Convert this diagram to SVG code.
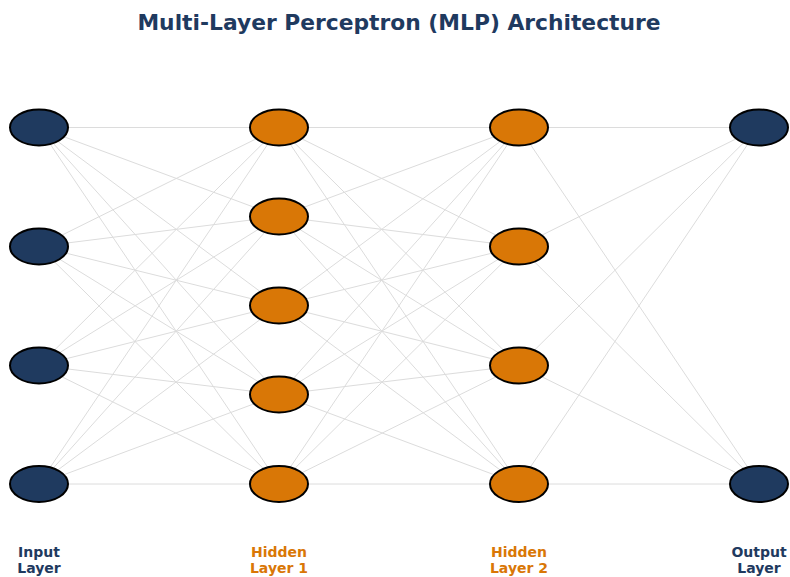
<svg xmlns="http://www.w3.org/2000/svg" width="790" height="577" viewBox="0 0 790 577">
  <style>
    .edge { stroke: #dcdcdc; stroke-width: 1; fill: none; }
    .node ellipse { stroke: #000; stroke-width: 2; }
    .io ellipse { fill: #1f3a5f; }
    .hid ellipse { fill: #d97706; }
    text { font-family: "DejaVu Sans", sans-serif; font-weight: bold; text-anchor: middle; }
    .title { font-size: 21.8px; fill: #1f3a5f; }
    .lbl { font-size: 14px; }
    .lbl-io { fill: #1f3a5f; }
    .lbl-hid { fill: #d97706; }
  </style>
  <rect width="790" height="577" fill="#fff"/>
  <text class="title" x="399" y="30">Multi-Layer Perceptron (MLP) Architecture</text>

  <!-- Fully connected weights between adjacent layers -->
  <g id="connectors">
    <!-- input -> hidden 1 -->
    <line class="edge" x1="39" y1="127.5" x2="279" y2="127.5"/>
    <line class="edge" x1="39" y1="127.5" x2="279" y2="216.5"/>
    <line class="edge" x1="39" y1="127.5" x2="279" y2="305.5"/>
    <line class="edge" x1="39" y1="127.5" x2="279" y2="394.5"/>
    <line class="edge" x1="39" y1="127.5" x2="279" y2="484"/>
    <line class="edge" x1="39" y1="246.5" x2="279" y2="127.5"/>
    <line class="edge" x1="39" y1="246.5" x2="279" y2="216.5"/>
    <line class="edge" x1="39" y1="246.5" x2="279" y2="305.5"/>
    <line class="edge" x1="39" y1="246.5" x2="279" y2="394.5"/>
    <line class="edge" x1="39" y1="246.5" x2="279" y2="484"/>
    <line class="edge" x1="39" y1="365.5" x2="279" y2="127.5"/>
    <line class="edge" x1="39" y1="365.5" x2="279" y2="216.5"/>
    <line class="edge" x1="39" y1="365.5" x2="279" y2="305.5"/>
    <line class="edge" x1="39" y1="365.5" x2="279" y2="394.5"/>
    <line class="edge" x1="39" y1="365.5" x2="279" y2="484"/>
    <line class="edge" x1="39" y1="484" x2="279" y2="127.5"/>
    <line class="edge" x1="39" y1="484" x2="279" y2="216.5"/>
    <line class="edge" x1="39" y1="484" x2="279" y2="305.5"/>
    <line class="edge" x1="39" y1="484" x2="279" y2="394.5"/>
    <line class="edge" x1="39" y1="484" x2="279" y2="484"/>
    <!-- hidden 1 -> hidden 2 -->
    <line class="edge" x1="279" y1="127.5" x2="519" y2="127.5"/>
    <line class="edge" x1="279" y1="127.5" x2="519" y2="246.5"/>
    <line class="edge" x1="279" y1="127.5" x2="519" y2="365.5"/>
    <line class="edge" x1="279" y1="127.5" x2="519" y2="484"/>
    <line class="edge" x1="279" y1="216.5" x2="519" y2="127.5"/>
    <line class="edge" x1="279" y1="216.5" x2="519" y2="246.5"/>
    <line class="edge" x1="279" y1="216.5" x2="519" y2="365.5"/>
    <line class="edge" x1="279" y1="216.5" x2="519" y2="484"/>
    <line class="edge" x1="279" y1="305.5" x2="519" y2="127.5"/>
    <line class="edge" x1="279" y1="305.5" x2="519" y2="246.5"/>
    <line class="edge" x1="279" y1="305.5" x2="519" y2="365.5"/>
    <line class="edge" x1="279" y1="305.5" x2="519" y2="484"/>
    <line class="edge" x1="279" y1="394.5" x2="519" y2="127.5"/>
    <line class="edge" x1="279" y1="394.5" x2="519" y2="246.5"/>
    <line class="edge" x1="279" y1="394.5" x2="519" y2="365.5"/>
    <line class="edge" x1="279" y1="394.5" x2="519" y2="484"/>
    <line class="edge" x1="279" y1="484" x2="519" y2="127.5"/>
    <line class="edge" x1="279" y1="484" x2="519" y2="246.5"/>
    <line class="edge" x1="279" y1="484" x2="519" y2="365.5"/>
    <line class="edge" x1="279" y1="484" x2="519" y2="484"/>
    <!-- hidden 2 -> output -->
    <line class="edge" x1="519" y1="127.5" x2="759" y2="127.5"/>
    <line class="edge" x1="519" y1="127.5" x2="759" y2="484"/>
    <line class="edge" x1="519" y1="246.5" x2="759" y2="127.5"/>
    <line class="edge" x1="519" y1="246.5" x2="759" y2="484"/>
    <line class="edge" x1="519" y1="365.5" x2="759" y2="127.5"/>
    <line class="edge" x1="519" y1="365.5" x2="759" y2="484"/>
    <line class="edge" x1="519" y1="484" x2="759" y2="127.5"/>
    <line class="edge" x1="519" y1="484" x2="759" y2="484"/>
  </g>

  <!-- Input layer -->
  <g id="in1" class="node io"><ellipse cx="39" cy="127.5" rx="29" ry="18"/></g>
  <g id="in2" class="node io"><ellipse cx="39" cy="246.5" rx="29" ry="18"/></g>
  <g id="in3" class="node io"><ellipse cx="39" cy="365.5" rx="29" ry="18"/></g>
  <g id="in4" class="node io"><ellipse cx="39" cy="484" rx="29" ry="18"/></g>

  <!-- Hidden layer 1 -->
  <g id="h1_1" class="node hid"><ellipse cx="279" cy="127.5" rx="29" ry="18"/></g>
  <g id="h1_2" class="node hid"><ellipse cx="279" cy="216.5" rx="29" ry="18"/></g>
  <g id="h1_3" class="node hid"><ellipse cx="279" cy="305.5" rx="29" ry="18"/></g>
  <g id="h1_4" class="node hid"><ellipse cx="279" cy="394.5" rx="29" ry="18"/></g>
  <g id="h1_5" class="node hid"><ellipse cx="279" cy="484" rx="29" ry="18"/></g>

  <!-- Hidden layer 2 -->
  <g id="h2_1" class="node hid"><ellipse cx="519" cy="127.5" rx="29" ry="18"/></g>
  <g id="h2_2" class="node hid"><ellipse cx="519" cy="246.5" rx="29" ry="18"/></g>
  <g id="h2_3" class="node hid"><ellipse cx="519" cy="365.5" rx="29" ry="18"/></g>
  <g id="h2_4" class="node hid"><ellipse cx="519" cy="484" rx="29" ry="18"/></g>

  <!-- Output layer -->
  <g id="out1" class="node io"><ellipse cx="759" cy="127.5" rx="29" ry="18"/></g>
  <g id="out2" class="node io"><ellipse cx="759" cy="484" rx="29" ry="18"/></g>

  <!-- Layer captions -->
  <g id="labels">
    <text class="lbl lbl-io" x="39" y="557">Input<tspan x="39" dy="16">Layer</tspan></text>
    <text class="lbl lbl-hid" x="279" y="557">Hidden<tspan x="279" dy="16">Layer 1</tspan></text>
    <text class="lbl lbl-hid" x="519" y="557">Hidden<tspan x="519" dy="16">Layer 2</tspan></text>
    <text class="lbl lbl-io" x="759" y="557">Output<tspan x="759" dy="16">Layer</tspan></text>
  </g>
</svg>
